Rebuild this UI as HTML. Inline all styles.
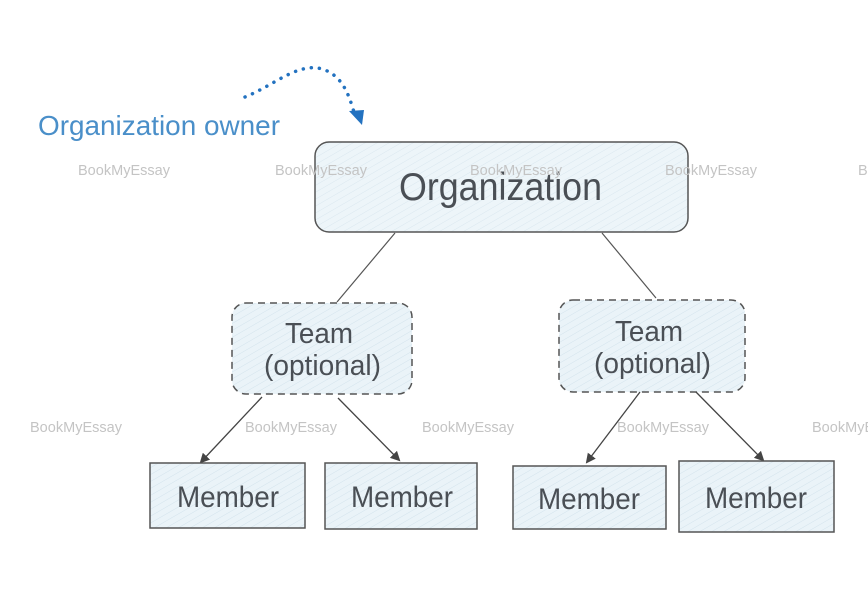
<!DOCTYPE html>
<html><head><meta charset="utf-8"><style>
html,body{margin:0;padding:0;background:#fff;}
svg{display:block;}
text{font-family:"Liberation Sans",sans-serif;}
</style></head><body>
<svg width="868" height="597" viewBox="0 0 868 597" xmlns="http://www.w3.org/2000/svg">
<defs>
<pattern id="h" width="6" height="6" patternUnits="userSpaceOnUse" patternTransform="rotate(60)">
<rect width="6" height="6" fill="#eaf3f8"/>
<line x1="0" y1="0" x2="0" y2="6" stroke="#d3e3ec" stroke-width="1"/>
</pattern>
<marker id="a" markerWidth="10" markerHeight="10" refX="8" refY="5" orient="auto" markerUnits="userSpaceOnUse">
<path d="M0,0 L10,5 L0,10 Z" fill="#444"/>
</marker>
</defs>
<!-- dotted arrow -->
<path d="M245,97 C275,85 300,60 325,70 C345,78 350,100 354,112" fill="none" stroke="#2372c0" stroke-width="3.5" stroke-dasharray="0.1 8" stroke-linecap="round"/>
<path d="M349,111 L364,110 L362,125 Z" fill="#2372c0"/>
<text x="38" y="135" font-size="28" fill="#4a8fc9" textLength="242" lengthAdjust="spacingAndGlyphs">Organization owner</text>

<!-- org -->
<rect x="315" y="142" width="373" height="90" rx="14" fill="url(#h)" fill-opacity="0.85" stroke="#555" stroke-width="1.5"/>
<text x="399" y="200" font-size="39" fill="#4a4f55" textLength="203" lengthAdjust="spacingAndGlyphs">Organization</text>

<line x1="395" y1="233" x2="337" y2="302" stroke="#555" stroke-width="1.2"/>
<line x1="602" y1="233" x2="656" y2="298" stroke="#555" stroke-width="1.2"/>

<!-- teams -->
<rect x="232" y="303" width="180" height="91" rx="14" fill="url(#h)" stroke="#555" stroke-width="1.5" stroke-dasharray="7 5"/>
<text x="285" y="343" font-size="29" fill="#4a4f55" textLength="68" lengthAdjust="spacingAndGlyphs">Team</text>
<text x="264" y="375" font-size="29" fill="#4a4f55" textLength="117" lengthAdjust="spacingAndGlyphs">(optional)</text>
<rect x="559" y="300" width="186" height="92" rx="14" fill="url(#h)" stroke="#555" stroke-width="1.5" stroke-dasharray="7 5"/>
<text x="615" y="341" font-size="29" fill="#4a4f55" textLength="68" lengthAdjust="spacingAndGlyphs">Team</text>
<text x="594" y="373" font-size="29" fill="#4a4f55" textLength="117" lengthAdjust="spacingAndGlyphs">(optional)</text>

<!-- arrows -->
<g stroke="#444" stroke-width="1.3" fill="none" marker-end="url(#a)">
<line x1="262" y1="397" x2="201" y2="462"/>
<line x1="338" y1="398" x2="399" y2="460"/>
<line x1="640" y1="392" x2="587" y2="462"/>
<line x1="696" y1="392" x2="763" y2="460"/>
</g>

<!-- members -->
<g fill="url(#h)" stroke="#555" stroke-width="1.5">
<rect x="150" y="463" width="155" height="65"/>
<rect x="325" y="463" width="152" height="66"/>
<rect x="513" y="466" width="153" height="63"/>
<rect x="679" y="461" width="155" height="71"/>
</g>
<g font-size="30" fill="#4a4f55">
<text x="177" y="507" textLength="102" lengthAdjust="spacingAndGlyphs">Member</text>
<text x="351" y="507" textLength="102" lengthAdjust="spacingAndGlyphs">Member</text>
<text x="538" y="509" textLength="102" lengthAdjust="spacingAndGlyphs">Member</text>
<text x="705" y="508" textLength="102" lengthAdjust="spacingAndGlyphs">Member</text>
</g>

<!-- watermarks -->
<g font-size="15" fill="#c4c4c4">
<text x="78" y="175" textLength="92" lengthAdjust="spacingAndGlyphs">BookMyEssay</text><text x="275" y="175" textLength="92" lengthAdjust="spacingAndGlyphs">BookMyEssay</text><text x="470" y="175" textLength="92" lengthAdjust="spacingAndGlyphs">BookMyEssay</text><text x="665" y="175" textLength="92" lengthAdjust="spacingAndGlyphs">BookMyEssay</text><text x="858" y="175" textLength="92" lengthAdjust="spacingAndGlyphs">BookMyEssay</text>
<text x="30" y="432" textLength="92" lengthAdjust="spacingAndGlyphs">BookMyEssay</text><text x="245" y="432" textLength="92" lengthAdjust="spacingAndGlyphs">BookMyEssay</text><text x="422" y="432" textLength="92" lengthAdjust="spacingAndGlyphs">BookMyEssay</text><text x="617" y="432" textLength="92" lengthAdjust="spacingAndGlyphs">BookMyEssay</text><text x="812" y="432" textLength="92" lengthAdjust="spacingAndGlyphs">BookMyEssay</text>
</g>
</svg>
</body></html>
